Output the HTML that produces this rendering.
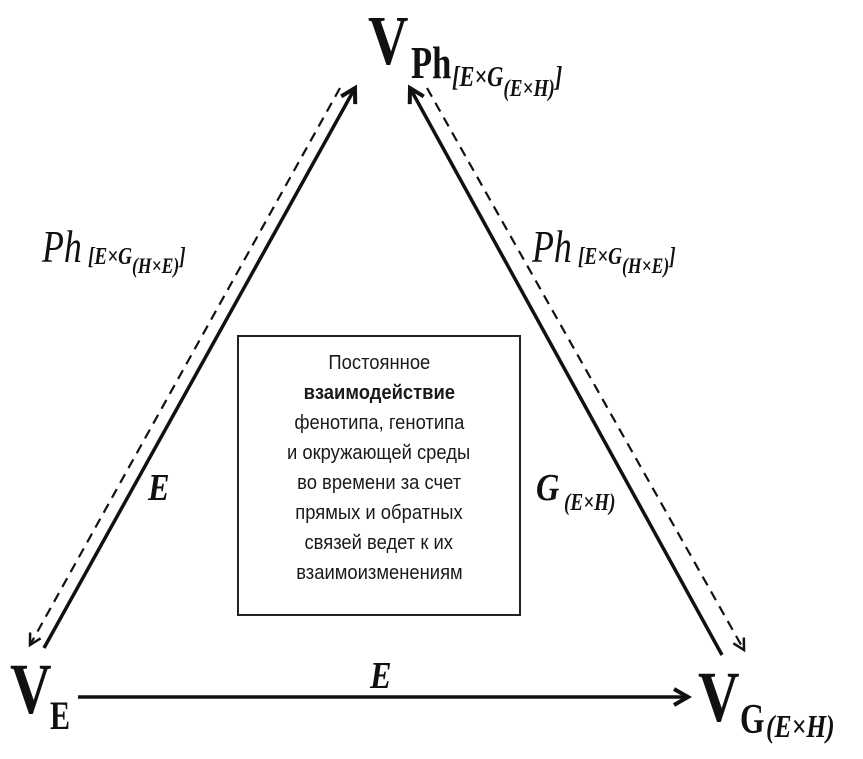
<!DOCTYPE html>
<html><head><meta charset="utf-8"><style>
body{margin:0;background:#fff;width:863px;height:759px;overflow:hidden;position:relative;font-family:"Liberation Serif",serif}
.t{position:absolute;white-space:nowrap;color:#111;transform-origin:0 0}
.box{position:absolute;left:237px;top:335px;width:284px;height:281px;border:2px solid #222;box-sizing:border-box;text-align:center;font-family:"Liberation Sans",sans-serif;font-size:20px;line-height:30px;padding-top:11px;color:#1a1a1a}
.box span{display:inline-block;transform:scaleX(0.92)}
</style></head><body>
<svg width="863" height="759" style="position:absolute;left:0;top:0">
<defs>
<marker id="b" markerWidth="20" markerHeight="20" refX="16" refY="10" orient="auto" markerUnits="userSpaceOnUse"><path d="M2,2 L16,10 L2,18" fill="none" stroke="#111" stroke-width="4"/></marker>
<marker id="d" markerWidth="16" markerHeight="16" refX="13" refY="8" orient="auto" markerUnits="userSpaceOnUse"><path d="M2,2 L13,8 L2,14" fill="none" stroke="#111" stroke-width="2.5"/></marker>
</defs>
<line x1="44" y1="648" x2="355" y2="88" stroke="#111" stroke-width="3.5" marker-end="url(#b)"/>
<line x1="340" y1="88" x2="30" y2="645" stroke="#111" stroke-width="2.2" stroke-dasharray="10,7" marker-end="url(#d)"/>
<line x1="722" y1="655" x2="410" y2="88" stroke="#111" stroke-width="3.5" marker-end="url(#b)"/>
<line x1="427" y1="88" x2="744" y2="650" stroke="#111" stroke-width="2.2" stroke-dasharray="10,7" marker-end="url(#d)"/>
<line x1="78" y1="697" x2="688" y2="697" stroke="#111" stroke-width="3.5" marker-end="url(#b)"/>
</svg>
<div class="t" style="left:368px;top:2px;font-size:70px;font-weight:bold;transform:scaleX(0.8)">V</div>
<div class="t" style="left:411px;top:36px;font-size:46px;font-weight:bold;transform:scaleX(0.75)">Ph</div>
<div class="t" style="left:452px;top:62px;font-size:28px;font-style:italic;font-weight:bold;transform:scaleX(0.8)">[E×G<span style="font-size:24px;position:relative;top:10px">(E×H)</span>]</div>
<div class="t" style="left:42px;top:220px;font-size:46px;font-style:italic;transform:scaleX(0.78)">Ph</div>
<div class="t" style="left:88px;top:244px;font-size:24px;font-style:italic;font-weight:bold;transform:scaleX(0.8)">[E×G<span style="font-size:22px;position:relative;top:9px">(H×E)</span>]</div>
<div class="t" style="left:532px;top:220px;font-size:46px;font-style:italic;transform:scaleX(0.78)">Ph</div>
<div class="t" style="left:578px;top:244px;font-size:24px;font-style:italic;font-weight:bold;transform:scaleX(0.8)">[E×G<span style="font-size:22px;position:relative;top:9px">(H×E)</span>]</div>
<div class="t" style="left:148px;top:466px;font-size:38px;font-style:italic;font-weight:bold;transform:scaleX(0.85)">E</div>
<div class="t" style="left:536px;top:466px;font-size:38px;font-style:italic;font-weight:bold;transform:scaleX(0.85)">G</div>
<div class="t" style="left:564px;top:490px;font-size:24px;font-style:italic;font-weight:bold;transform:scaleX(0.8)">(E×H)</div>
<div class="t" style="left:370px;top:654px;font-size:38px;font-style:italic;font-weight:bold;transform:scaleX(0.85)">E</div>
<div class="t" style="left:10px;top:648px;font-size:72px;font-weight:bold;transform:scaleX(0.8)">V</div>
<div class="t" style="left:50px;top:692px;font-size:40px;font-weight:bold;transform:scaleX(0.75)">E</div>
<div class="t" style="left:698px;top:656px;font-size:72px;font-weight:bold;transform:scaleX(0.8)">V</div>
<div class="t" style="left:740px;top:696px;font-size:42px;font-weight:bold;transform:scaleX(0.75)">G</div>
<div class="t" style="left:766px;top:708px;font-size:32px;font-style:italic;font-weight:bold;transform:scaleX(0.8)">(E×H)</div>
<div class="box"><span>Постоянное</span><br><span><b>взаимодействие</b></span><br><span>фенотипа, генотипа</span><br><span>и окружающей среды</span><br><span>во времени за счет</span><br><span>прямых и обратных</span><br><span>связей ведет к их</span><br><span>взаимоизменениям</span></div>
</body></html>
